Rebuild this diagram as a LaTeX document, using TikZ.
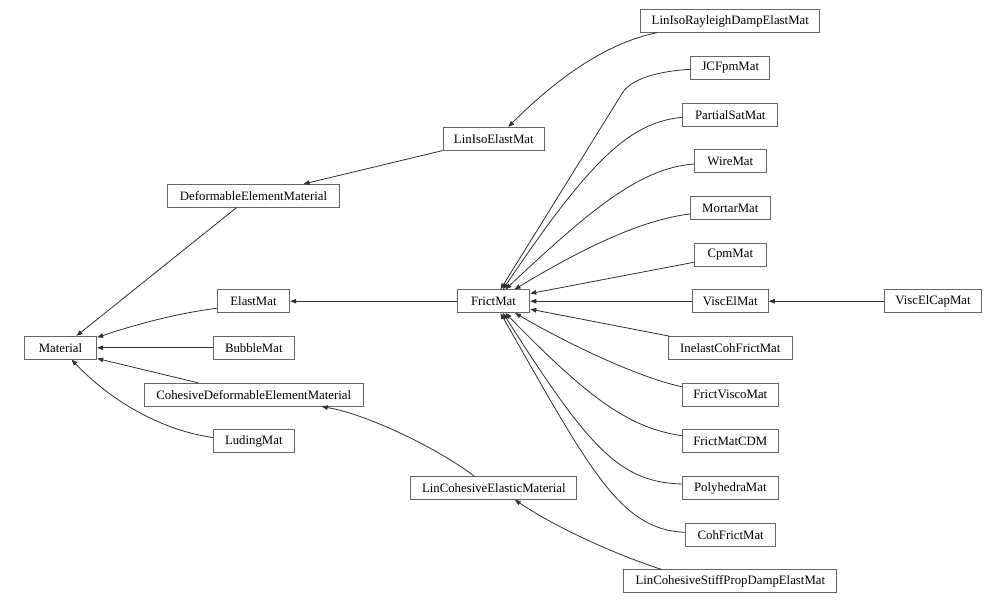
\documentclass[tikz,border=0pt]{standalone}
\usepackage{fontspec}
\setmainfont{Liberation Serif}
\usetikzlibrary{arrows.meta,calc}
\definecolor{nodeborder}{HTML}{666666}
\definecolor{edgecol}{HTML}{303030}
\begin{document}
\begin{tikzpicture}[x=0.75pt,y=-0.75pt,
  cls/.style={draw=nodeborder,line width=0.75pt,fill=white,minimum height=17pt,inner sep=0pt,font=\fontsize{9.6}{11}\selectfont},
  bw/.style={minimum width=#1*0.75pt},
  inh/.style={draw=edgecol,line width=0.6pt,-{Triangle[length=4.5pt,width=3.4pt]}}]
\useasboundingbox (0,0) rectangle (1006,603);
% nodes
\node[cls,bw=72.4] (mat) at (60.5,347.7) {Material};
\node[cls,bw=172.4] (deform) at (253.5,195.8) {DeformableElementMaterial};
\node[cls,bw=72.4] (elast) at (253.5,301.2) {ElastMat};
\node[cls,bw=81] (bubble) at (253.8,347.7) {BubbleMat};
\node[cls,bw=218.7] (cohdef) at (253.7,394.7) {CohesiveDeformableElementMaterial};
\node[cls,bw=81] (luding) at (253.8,441.2) {LudingMat};
\node[cls,bw=101] (liso) at (493.8,138.7) {LinIsoElastMat};
\node[cls,bw=72.5] (frict) at (493.5,301.2) {FrictMat};
\node[cls,bw=165.7] (lce) at (493.8,488) {LinCohesiveElasticMaterial};
\node[cls,bw=178.7] (lisoR) at (730.3,21) {LinIsoRayleighDampElastMat};
\node[cls,bw=78.7] (jcf) at (730.3,68) {JCFpmMat};
\node[cls,bw=94.7] (psat) at (730.3,114.7) {PartialSatMat};
\node[cls,bw=72] (wire) at (730.3,161.3) {WireMat};
\node[cls,bw=80] (mortar) at (730.3,208) {MortarMat};
\node[cls,bw=72] (cpm) at (730.3,254.7) {CpmMat};
\node[cls,bw=76] (viscel) at (730.3,301.2) {ViscElMat};
\node[cls,bw=97.4] (viscelcap) at (933,301.2) {ViscElCapMat};
\node[cls,bw=124] (inelast) at (730.3,348) {InelastCohFrictMat};
\node[cls,bw=96] (fvisco) at (730.3,394.7) {FrictViscoMat};
\node[cls,bw=96] (fcdm) at (730.3,441.3) {FrictMatCDM};
\node[cls,bw=96] (poly) at (730.3,488) {PolyhedraMat};
\node[cls,bw=90] (cohf) at (730.7,534.7) {CohFrictMat};
\node[cls,bw=212.7] (lcs) at (730.3,581.3) {LinCohesiveStiffPropDampElastMat};
% edges
\draw[inh] ($(lisoR.south)+(-73.6,0)$) .. controls (610,42) and (560,75) .. ($(liso.north)+(14.5,0)$);
\draw[inh] (liso.south west) -- ($(deform.north)+(50,0)$);
\draw[inh] ($(deform.south)+(-17,0)$) -- ($(mat.north)+(16,0)$);
\draw[inh] ($(elast.west)+(0,7)$) .. controls (180,313) and (140,323) .. ($(mat.north east)+(0,1.5)$);
\draw[inh] (bubble.west) -- (mat.east);
\draw[inh] ($(cohdef.north)+(-55.4,0)$) -- ($(mat.south east)+(0,-1)$);
\draw[inh] ($(luding.west)+(0,-3.7)$) .. controls (160,430) and (110,400) .. ($(mat.south)+(11,0)$);
\draw[inh] (frict.west) -- (elast.east);
\draw[inh] ($(lce.north)+(-19.5,0)$) .. controls (440,450) and (370,415) .. ($(cohdef.south)+(68,0)$);
\draw[inh] ($(lcs.north)+(-68.6,0)$) .. controls (620,556) and (560,530) .. ($(lce.south)+(21,0)$);
\draw[inh] ($(jcf.west)+(0,1.3)$) .. controls (660,71) and (633,78) .. (623,92) -- ($(frict.north)+(7,0)$);
\draw[inh] ($(psat.west)+(0,2.6)$) .. controls (630,122) and (590,160) .. ($(frict.north)+(9.5,0)$);
\draw[inh] ($(wire.west)+(0,2.7)$) .. controls (640,168) and (590,210) .. ($(frict.north)+(12,0)$);
\draw[inh] ($(mortar.west)+(0,6)$) .. controls (640,220) and (580,250) .. ($(frict.north)+(21,0)$);
\draw[inh] ($(cpm.west)+(0,7.6)$) -- ($(frict.east)+(0,-7.7)$);
\draw[inh] (viscel.west) -- (frict.east);
\draw[inh] (viscelcap.west) -- (viscel.east);
\draw[inh] ($(inelast.north west)+(1.7,0)$) -- ($(frict.east)+(0,8)$);
\draw[inh] ($(fvisco.west)+(0,-8)$) .. controls (640,378) and (570,345) .. ($(frict.south)+(21.5,0)$);
\draw[inh] ($(fcdm.west)+(0,-5.6)$) .. controls (630,428) and (590,400) .. ($(frict.south)+(12,0)$);
\draw[inh] ($(poly.west)+(0,-4)$) .. controls (620,482) and (590,450) .. ($(frict.south)+(9.5,0)$);
\draw[inh] ($(cohf.west)+(0,-2.4)$) .. controls (620,530) and (590,470) .. ($(frict.south)+(7,0)$);
\end{tikzpicture}
\end{document}
